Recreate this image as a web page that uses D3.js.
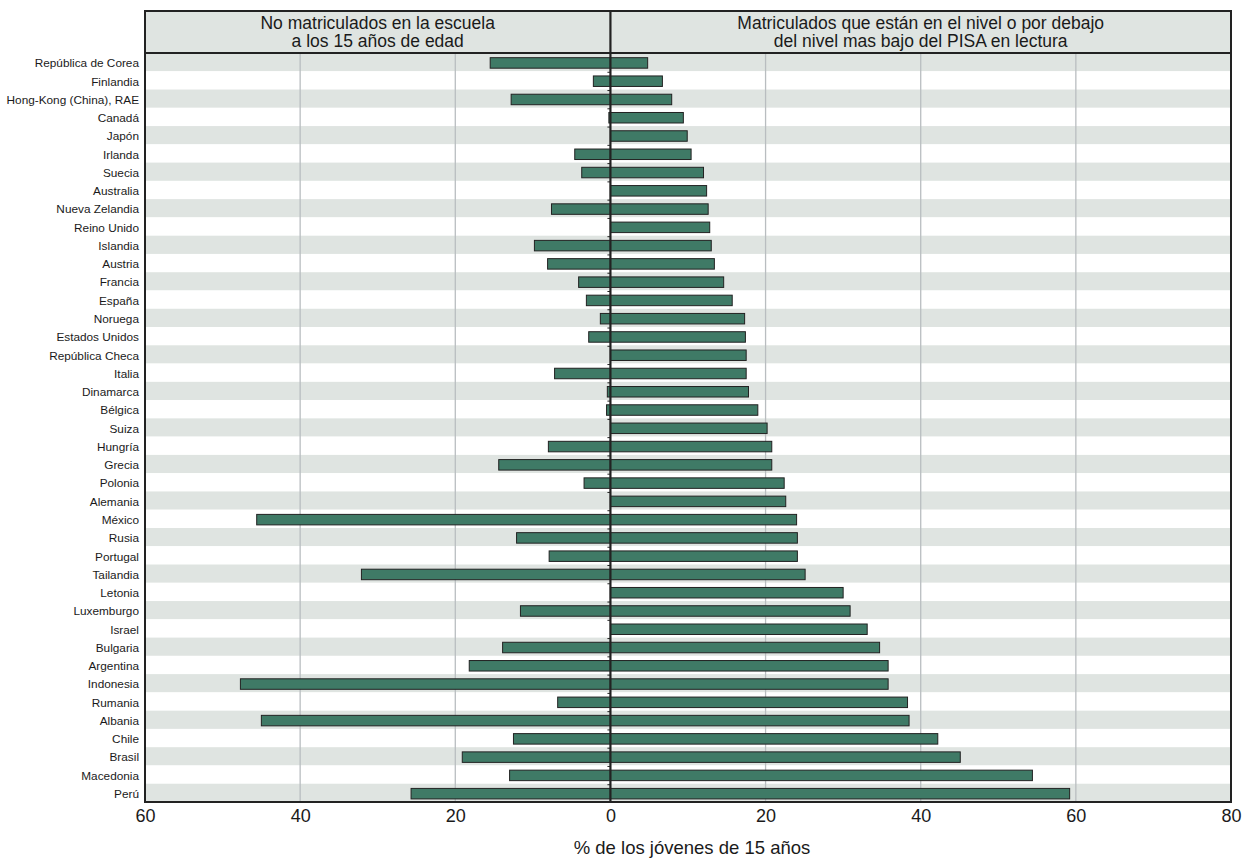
<!DOCTYPE html>
<html><head><meta charset="utf-8">
<script src="https://cdn.jsdelivr.net/npm/d3@7"></script>
<style>body{margin:0;background:#fff;} text{font-family:"Liberation Sans",Arial,sans-serif;}</style>
</head><body>
<svg id="chart" width="1244" height="863"></svg>
<script>
const countries = ["República de Corea","Finlandia","Hong-Kong (China), RAE","Canadá","Japón","Irlanda","Suecia","Australia","Nueva Zelandia","Reino Unido","Islandia","Austria","Francia","España","Noruega","Estados Unidos","República Checa","Italia","Dinamarca","Bélgica","Suiza","Hungría","Grecia","Polonia","Alemania","México","Rusia","Portugal","Tailandia","Letonia","Luxemburgo","Israel","Bulgaria","Argentina","Indonesia","Rumania","Albania","Chile","Brasil","Macedonia","Perú"];
const notEnrolled = [15.5,2.2,12.8,0.2,0,4.6,3.7,0,7.6,0,9.8,8.1,4.1,3.1,1.3,2.8,0,7.2,0.4,0.5,0,8.0,14.4,3.4,0,45.6,12.1,7.9,32.1,0,11.6,0,13.9,18.2,47.7,6.8,45.0,12.5,19.1,13.0,25.7];
const lowReading = [4.8,6.7,7.9,9.4,9.9,10.4,12.0,12.4,12.6,12.8,13.0,13.4,14.6,15.7,17.3,17.4,17.5,17.5,17.8,19.0,20.2,20.8,20.8,22.4,22.6,24.0,24.1,24.1,25.1,30.0,30.9,33.1,34.7,35.8,35.8,38.3,38.5,42.2,45.1,54.4,59.2];
const tickValues = [-60,-40,-20,0,20,40,60,80];
const headerLeft = ["No matriculados en la escuela","a los 15 años de edad"];
const headerRight = ["Matriculados que están en el nivel o por debajo","del nivel mas bajo del PISA en lectura"];
const axisTitle = "% de los jóvenes de 15 años";

(function(){
const svg = d3.select("#chart");
const L = 145, R = 1231, headTop = 11, plotTop = 53, plotBottom = 802;
const x = d3.scaleLinear().domain([-60,80]).range([L,R]);
const y = d3.scaleBand().domain(countries).range([plotTop,plotBottom]).paddingInner(0);
const bh = 10.5;
const barY = d => y(d)+(y.bandwidth()-bh)/2+0.8;

svg.append("g").selectAll("rect").data(countries).join("rect")
  .attr("x",L).attr("width",R-L)
  .attr("y",d=>y(d)).attr("height",y.bandwidth())
  .attr("fill",(d,i)=>i%2===0?"#dfe4e1":"#ffffff");

svg.append("g").selectAll("line").data(tickValues.filter(v=>v!==0&&v!==-60&&v!==80)).join("line")
  .attr("x1",d=>x(d)).attr("x2",d=>x(d)).attr("y1",plotTop).attr("y2",plotBottom)
  .attr("stroke","#b9bdc0").attr("stroke-width",1.3);

svg.append("rect").attr("x",L).attr("y",headTop).attr("width",R-L).attr("height",plotTop-headTop)
  .attr("fill","#dfe4e1");
const hl = svg.append("text").attr("text-anchor","middle").attr("font-size",17.5).attr("fill","#1a1a1a");
headerLeft.forEach((t,i)=>hl.append("tspan").attr("x",(L+x(0))/2).attr("y",28.5+i*18.5).text(t));
const hr = svg.append("text").attr("text-anchor","middle").attr("font-size",17.5).attr("fill","#1a1a1a");
headerRight.forEach((t,i)=>hr.append("tspan").attr("x",(x(0)+R)/2).attr("y",28.5+i*18.5).text(t));

const barG = svg.append("g");
barG.selectAll("rect.l").data(countries).join("rect").attr("class","l")
  .attr("x",(d,i)=>x(-notEnrolled[i])).attr("width",(d,i)=>x(0)-x(-notEnrolled[i]))
  .attr("y",barY).attr("height",bh)
  .attr("fill","#3f7a66").attr("stroke","#222").attr("stroke-width",1)
  .attr("display",(d,i)=>notEnrolled[i]>0?null:"none");
barG.selectAll("rect.r").data(countries).join("rect").attr("class","r")
  .attr("x",x(0)).attr("width",(d,i)=>x(lowReading[i])-x(0))
  .attr("y",barY).attr("height",bh)
  .attr("fill","#3f7a66").attr("stroke","#222").attr("stroke-width",1);

svg.append("g").selectAll("line").data(countries.slice(1)).join("line")
  .attr("x1",x(0)-3).attr("x2",x(0)).attr("y1",d=>y(d)+1).attr("y2",d=>y(d)+1)
  .attr("stroke","#222").attr("stroke-width",1);

svg.append("rect").attr("x",L).attr("y",headTop).attr("width",R-L).attr("height",plotBottom-headTop)
  .attr("fill","none").attr("stroke","#222").attr("stroke-width",2);
svg.append("line").attr("x1",L).attr("x2",R).attr("y1",plotTop).attr("y2",plotTop).attr("stroke","#222").attr("stroke-width",2);
svg.append("line").attr("x1",x(0)).attr("x2",x(0)).attr("y1",headTop).attr("y2",plotBottom).attr("stroke","#222").attr("stroke-width",2.2);

svg.append("g").selectAll("text").data(countries).join("text")
  .attr("x",139).attr("y",d=>y(d)+y.bandwidth()/2+1).attr("dy","0.35em")
  .attr("text-anchor","end").attr("font-size",11.8).attr("fill","#1a1a1a").text(d=>d);

const ax = svg.append("g").attr("transform",`translate(0,${plotBottom})`)
  .call(d3.axisBottom(x).tickValues(tickValues).tickFormat(d=>Math.abs(d)).tickSize(0).tickPadding(7));
ax.select(".domain").remove();
ax.selectAll("text").attr("font-size",18).attr("fill","#1a1a1a").attr("font-family","'Liberation Sans',Arial,sans-serif");

svg.append("text").attr("x",692).attr("y",854).attr("text-anchor","middle")
  .attr("font-size",18.5).attr("fill","#1a1a1a").text(axisTitle);
})();
</script>
</body></html>
